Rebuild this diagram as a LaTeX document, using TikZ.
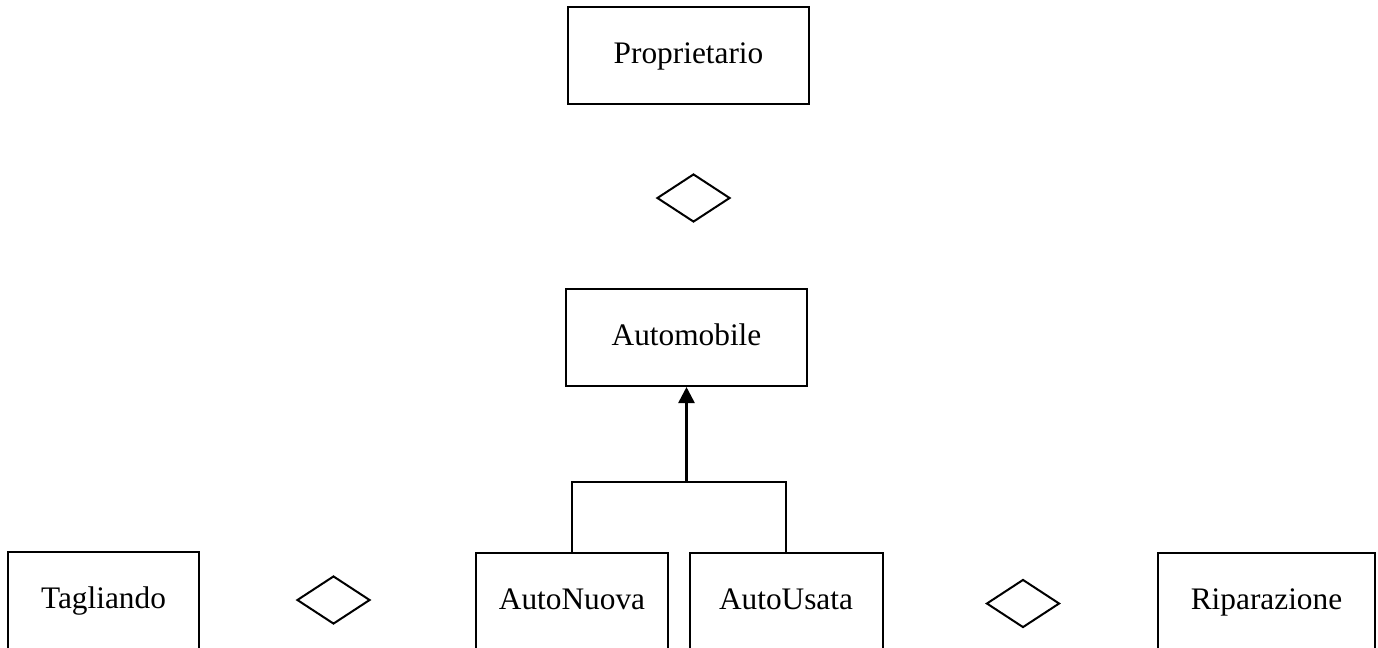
\documentclass[tikz,border=0pt]{standalone}
\usepackage{fontspec}
\setmainfont{Liberation Serif}
\usetikzlibrary{shapes.geometric,arrows.meta}
\begin{document}
\begin{tikzpicture}[x=0.75pt, y=-0.75pt, line width=1.5pt,
  entity/.style = {draw, rectangle, minimum height=72.75pt, inner sep=0pt,
    font=\fontsize{23.5}{28}\selectfont, text height=1.2em, text depth=0.05em},
  rel/.style = {draw, diamond, minimum width=54.75pt, minimum height=36pt, inner sep=0pt}]
\useasboundingbox (0,0) rectangle (1378,647);
\clip (0,0) rectangle (1378,647);
\node[entity, minimum width=180.75pt] (prop) at (688.5,55.5) {Proprietario};
\node[rel] (rel1) at (693.5,198) {};
\node[entity, minimum width=180.75pt] (auto) at (686.5,337.5) {Automobile};
\node[entity, minimum width=143.25pt] (tagl) at (103.5,600.5) {Tagliando};
\node[rel] (rel2) at (333.5,600) {};
\node[entity, minimum width=144pt] (nuova) at (572,601.5) {AutoNuova};
\node[entity, minimum width=144.75pt] (usata) at (786,601.5) {AutoUsata};
\node[rel] (rel3) at (1023,603.5) {};
\node[entity, minimum width=162.75pt] (ripa) at (1266.5,601.5) {Riparazione};
\coordinate (junc) at (686.5,482);
% gerarchia
\draw (nuova.north) |- (junc) -| (usata.north);
\draw[line width=1.9pt, -{Triangle[width=12pt,length=12pt]}] (junc) -- (auto.south);
\end{tikzpicture}
\end{document}
